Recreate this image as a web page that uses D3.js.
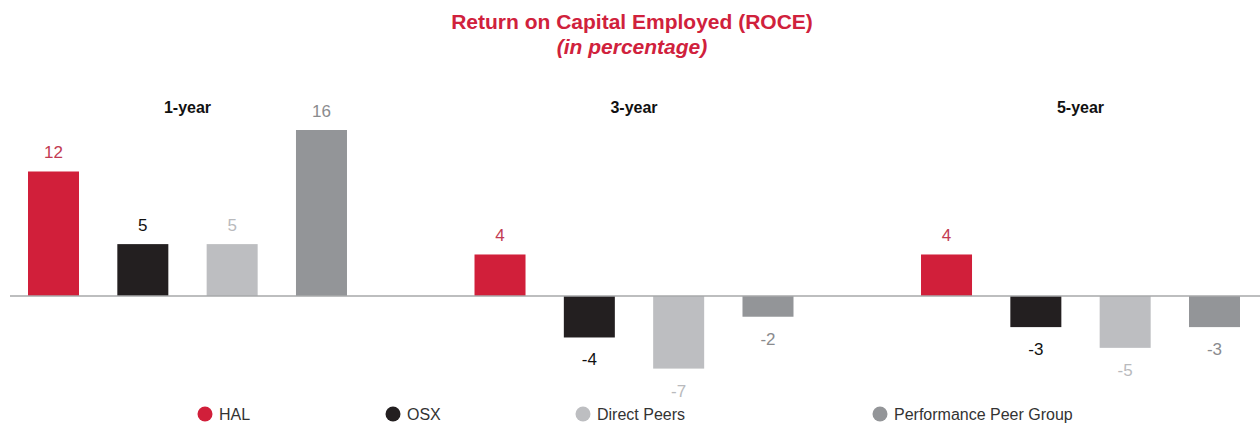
<!DOCTYPE html>
<html lang="en">
<head>
    <meta charset="UTF-8">
    <title>Return on Capital Employed (ROCE)</title>
    <script src="https://d3js.org/d3.v7.min.js"></script>
    <style>
        body { margin: 0; background: #fff; }
        svg { display: block; font-family: "Liberation Sans", Arial, Helvetica, sans-serif; }
    </style>
</head>
<body>
    <svg id="chart" width="1260" height="426"></svg>

    <script>
        const periods = ["1-year", "3-year", "5-year"];
        const seriesNames = ["HAL", "OSX", "Direct Peers", "Performance Peer Group"];
        const hal = [12, 4, 4];
        const osx = [5, -4, -3];
        const directPeers = [5, -7, -5];
        const perfPeers = [16, -2, -3];

        const colors = ["#d11f3a", "#231f20", "#bdbec1", "#939598"];
        const labelColors = ["#c23a52", "#111111", "#b9babd", "#8a8b8e"];

        const values = [hal, osx, directPeers, perfPeers];
        const data = [];
        periods.forEach((p, gi) => {
            seriesNames.forEach((s, si) => {
                data.push({ period: p, series: s, value: values[si][gi], idx: si });
            });
        });

        const svg = d3.select("#chart");

        const x0 = d3.scaleBand()
                     .domain(periods)
                     .range([28, 1240])
                     .paddingInner(0.2856)
                     .paddingOuter(0);

        const x1 = d3.scaleBand()
                     .domain(seriesNames)
                     .range([0, x0.bandwidth()])
                     .paddingInner(0.429)
                     .paddingOuter(0);

        const y = d3.scaleLinear()
                    .domain([-7, 16])
                    .range([368.6, 130]);

        // title
        svg.append("text")
           .attr("x", 632).attr("y", 29)
           .attr("text-anchor", "middle")
           .attr("font-size", 21).attr("font-weight", "bold")
           .attr("fill", "#d0213c")
           .text("Return on Capital Employed (ROCE)");
        svg.append("text")
           .attr("x", 632).attr("y", 54)
           .attr("text-anchor", "middle")
           .attr("font-size", 21).attr("font-weight", "bold")
           .attr("font-style", "italic")
           .attr("fill", "#d0213c")
           .text("(in percentage)");

        // group labels
        svg.selectAll(".grp")
           .data(periods)
           .enter()
           .append("text")
           .attr("class", "grp")
           .attr("x", d => x0(d) + x0.bandwidth() / 2)
           .attr("y", 113)
           .attr("text-anchor", "middle")
           .attr("font-size", 16).attr("font-weight", "bold")
           .attr("fill", "#111")
           .text(d => d);

        // bars
        svg.selectAll(".bar")
           .data(data)
           .enter()
           .append("rect")
           .attr("class", "bar")
           .attr("x", d => x0(d.period) + x1(d.series))
           .attr("y", d => y(Math.max(0, d.value)))
           .attr("width", x1.bandwidth())
           .attr("height", d => Math.abs(y(d.value) - y(0)))
           .attr("fill", d => colors[d.idx]);

        // zero line
        svg.append("line")
           .attr("x1", 10).attr("x2", 1260)
           .attr("y1", y(0)).attr("y2", y(0))
           .attr("stroke", "#a7a8aa").attr("stroke-width", 1.5);

        // value labels
        svg.selectAll(".label")
           .data(data)
           .enter()
           .append("text")
           .attr("class", "label")
           .attr("x", d => x0(d.period) + x1(d.series) + x1.bandwidth() / 2)
           .attr("y", d => d.value >= 0 ? y(d.value) - 13 : y(d.value) + 28)
           .attr("text-anchor", "middle")
           .attr("font-size", 17)
           .attr("fill", d => labelColors[d.idx])
           .text(d => d.value);

        // legend
        const legendX = [205, 393, 583, 880];
        const legend = svg.selectAll(".legend")
           .data(seriesNames)
           .enter()
           .append("g")
           .attr("class", "legend")
           .attr("transform", (d, i) => `translate(${legendX[i]}, 414)`);

        legend.append("circle")
              .attr("r", 7.5)
              .attr("fill", (d, i) => colors[i]);

        legend.append("text")
              .attr("x", 14)
              .attr("y", 5.5)
              .attr("font-size", 16)
              .attr("fill", "#333")
              .text(d => d);
    </script>
</body>
</html>
